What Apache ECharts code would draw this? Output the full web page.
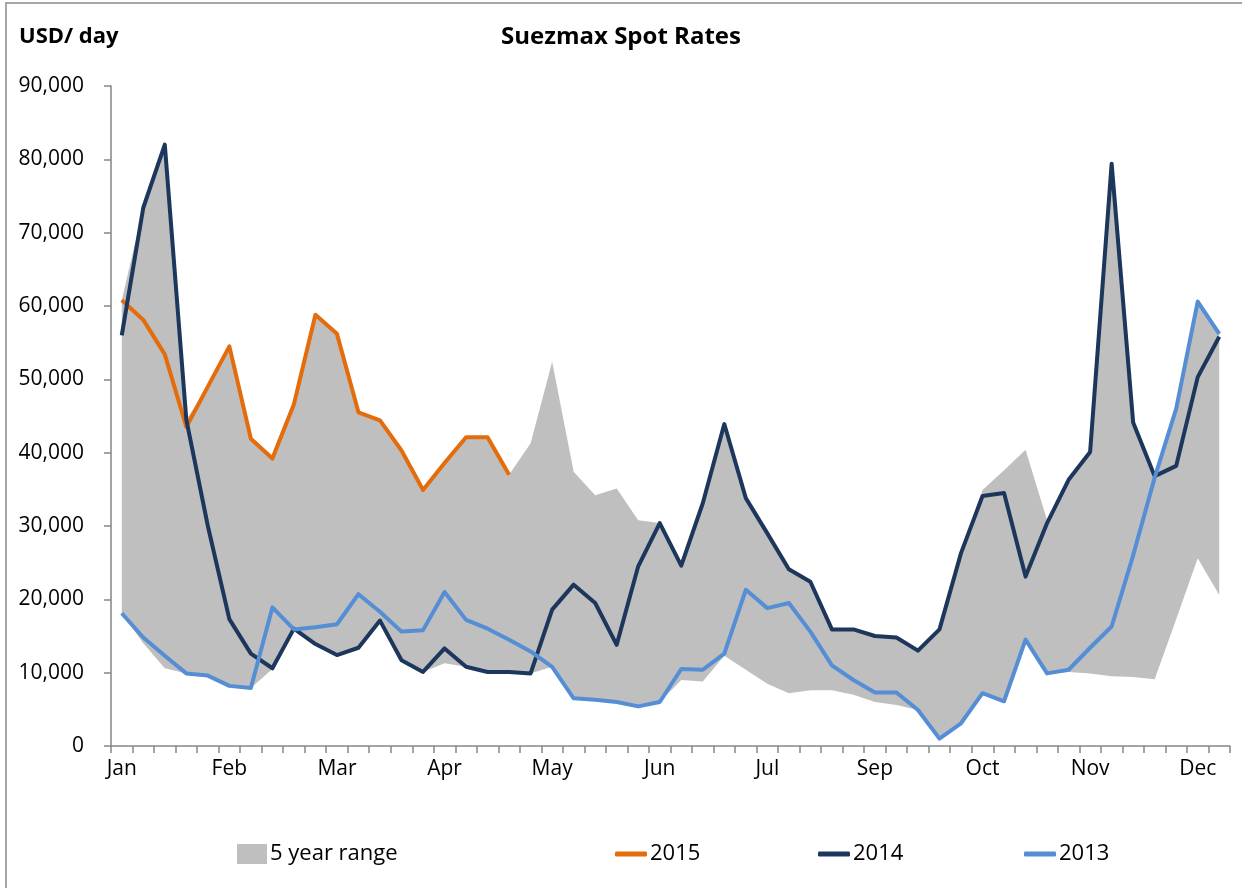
<!DOCTYPE html>
<html>
<head>
<meta charset="utf-8">
<title>Suezmax Spot Rates</title>
<script src="https://cdn.jsdelivr.net/npm/echarts@6/dist/echarts.min.js"></script>
<style>
  html, body { margin: 0; padding: 0; background: #fff; }
  #chart { width: 1242px; height: 888px; }
</style>
</head>
<body>
<div id="chart"></div>
<script>
// weekly categories (month of each week)
const weeks = [
  'Jan', 'Jan', 'Jan', 'Jan', 'Jan',
  'Feb', 'Feb', 'Feb', 'Feb',
  'Mar', 'Mar', 'Mar', 'Mar',
  'Apr', 'Apr', 'Apr', 'Apr', 'Apr',
  'May', 'May', 'May', 'May',
  'Jun', 'Jun', 'Jun', 'Jun',
  'Jul', 'Jul', 'Jul', 'Jul', 'Jul',
  'Aug', 'Aug', 'Aug', 'Aug',
  'Sep', 'Sep', 'Sep', 'Sep',
  'Oct', 'Oct', 'Oct', 'Oct', 'Oct',
  'Nov', 'Nov', 'Nov', 'Nov',
  'Dec', 'Dec', 'Dec', 'Dec'
]

// 5 year range, lower and upper bound
const rangeLow = [
  18100, 14000, 10600, 9900, 9600, 8200, 7900, 10500, 15900, 13900,
  12400, 13400, 17100, 11700, 10100, 11300, 10800, 10100, 10100, 9900,
  10800, 6500, 6300, 6000, 5400, 6000, 9000, 8800, 12300, 10400,
  8500, 7200, 7600, 7600, 7000, 6000, 5600, 4900, 1000, 3100,
  7200, 6100, 14500, 9900, 10100, 9900, 9500, 9400, 9100, 17300,
  25600, 20600
]
const rangeHigh = [
  60800, 73400, 82000, 44500, 49000, 54500, 41900, 39200, 46600, 58800,
  56200, 45500, 44400, 40300, 34900, 38600, 42100, 42100, 37000, 41300,
  52400, 37400, 34200, 35100, 30800, 30400, 24600, 33100, 43900, 33800,
  29000, 24100, 22400, 15900, 15900, 15000, 14800, 13000, 15900, 26300,
  34900, 37600, 40400, 30800, 36300, 40100, 79400, 44100, 37000, 46000,
  60600, 56200
]

const data2015 = [
  60800, 58100, 53400, 43500, 49000, 54500, 41900, 39200, 46600, 58800,
  56200, 45500, 44400, 40300, 34900, 38600, 42100, 42100, 37000
]
const data2014 = [
  56000, 73400, 82000, 44500, 30000, 17300, 12600, 10600, 16000, 13900,
  12400, 13400, 17100, 11700, 10100, 13300, 10800, 10100, 10100, 9900,
  18600, 22000, 19500, 13800, 24500, 30400, 24600, 33100, 43900, 33800,
  29000, 24100, 22400, 15900, 15900, 15000, 14800, 13000, 15900, 26300,
  34100, 34500, 23100, 30400, 36300, 40100, 79400, 44100, 36800, 38200,
  50300, 55800
]
const data2013 = [
  18100, 14800, 12300, 9900, 9600, 8200, 7900, 18900, 15900, 16200,
  16600, 20700, 18300, 15600, 15800, 21000, 17200, 16000, 14500, 12900,
  10800, 6500, 6300, 6000, 5400, 6000, 10500, 10400, 12600, 21300,
  18800, 19500, 15600, 11000, 9000, 7300, 7300, 4900, 1000, 3100,
  7200, 6100, 14500, 9900, 10400, 13400, 16300, 26000, 36600, 46000,
  60600, 56200
]

const yTicks = { min: 0, max: 90000, interval: 10000 }

const FONT = 'Open Sans'
const colors = {
  range: '#bfbfbf',
  y2015: '#e46c0a',
  y2014: '#1c365c',
  y2013: '#558ed5'
}

const chart = echarts.init(document.getElementById('chart'))

// legend helper, each item placed on its own
const legendItem = (name, left, icon, w, h) => ({
  data: [{ name: name, icon: icon }],
  left: left,
  top: 838,
  itemWidth: w,
  itemHeight: h,
  itemGap: 0,
  textStyle: { fontFamily: FONT, fontSize: 22, color: '#000', padding: [0, 0, 0, -2] },
  selectedMode: false
})

const lineSeries = (name, data, color) => ({
  name: name,
  type: 'line',
  data: data,
  symbol: 'none',
  lineStyle: { width: 4, color: color, join: 'round' },
  itemStyle: { color: color },
  z: 3
})

chart.setOption({
  animation: false,
  backgroundColor: '#fff',
  title: [
    {
      text: 'Suezmax Spot Rates',
      left: 'center',
      top: 20,
      textStyle: { fontFamily: FONT, fontSize: 24, fontWeight: 'bold', color: '#000' }
    },
    {
      text: 'USD/ day',
      left: 14,
      top: 21,
      textStyle: { fontFamily: FONT, fontSize: 22, fontWeight: 'bold', color: '#000' }
    }
  ],
  graphic: [
    {
      type: 'rect',
      shape: { x: 6, y: 3, width: 1400, height: 1000 },
      style: { fill: 'none', stroke: '#a6a6a6', lineWidth: 2 },
      silent: true
    }
  ],
  legend: [
    legendItem('5 year range', 232, 'rect', 30, 20),
    legendItem('2015', 610, 'roundRect', 32, 5),
    legendItem('2014', 813, 'roundRect', 32, 5),
    legendItem('2013', 1019, 'roundRect', 32, 5)
  ],
  grid: {
    left: 111,
    right: 12,
    top: 86,
    bottom: 142,
    containLabel: false
  },
  xAxis: {
    type: 'category',
    data: weeks,
    boundaryGap: true,
    axisLine: { lineStyle: { color: '#868686', width: 1.5 } },
    axisTick: {
      show: true,
      interval: 0,
      length: 7,
      lineStyle: { color: '#868686', width: 1.5 }
    },
    axisLabel: {
      interval: 4,
      margin: 13,
      fontFamily: FONT,
      fontSize: 21,
      color: '#000'
    },
    splitLine: { show: false }
  },
  yAxis: {
    type: 'value',
    min: yTicks.min,
    max: yTicks.max,
    interval: yTicks.interval,
    axisLine: { show: true, lineStyle: { color: '#868686', width: 1.5 } },
    axisTick: { show: true, length: 7, lineStyle: { color: '#868686', width: 1.5 } },
    axisLabel: {
      margin: 27,
      fontFamily: FONT,
      fontSize: 21,
      color: '#000',
      formatter: (v) => v.toLocaleString('en-US')
    },
    splitLine: { show: false }
  },
  series: [
    {
      name: 'range-base',
      type: 'line',
      stack: 'range',
      data: rangeLow,
      symbol: 'none',
      lineStyle: { opacity: 0 },
      silent: true,
      z: 1
    },
    {
      name: '5 year range',
      type: 'line',
      stack: 'range',
      data: rangeHigh.map((v, i) => v - rangeLow[i]),
      symbol: 'none',
      lineStyle: { opacity: 0, width: 0 },
      itemStyle: { color: colors.range },
      areaStyle: { color: colors.range, opacity: 1 },
      silent: true,
      z: 1
    },
    lineSeries('2015', data2015, colors.y2015),
    lineSeries('2014', data2014, colors.y2014),
    lineSeries('2013', data2013, colors.y2013)
  ]
})
</script>
</body>
</html>
